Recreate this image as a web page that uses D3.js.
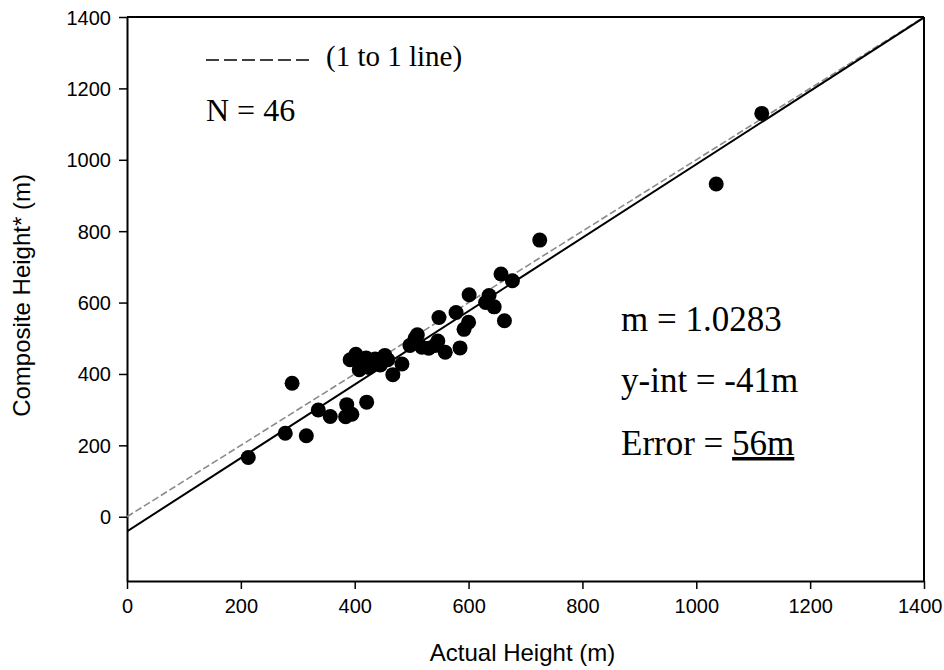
<!DOCTYPE html>
<html>
<head>
<meta charset="utf-8">
<script src="https://cdn.jsdelivr.net/npm/d3@7/dist/d3.min.js"></script>
<style>
  html, body { margin: 0; padding: 0; background: #fff; }
  svg { display: block; }
</style>
</head>
<body>
<svg id="chart" width="944" height="670"></svg>
<script>
// ---- Data ----
const actualHeight = [213, 278, 290, 315, 336, 357, 386, 384, 395, 421,
  402, 408, 404, 415, 436, 453, 445, 467, 483, 497,
  506, 510, 518, 530, 541, 546, 559, 548, 578, 585,
  592, 600, 601, 630, 636, 645, 663, 657, 677, 725,
  1035, 1115, 420, 392, 425, 458];
const compositeHeight = [166, 234, 374, 227, 299, 281, 314, 280, 287, 321,
  455, 412, 440, 430, 442, 452, 425, 398, 428, 480,
  500, 510, 475, 472, 480, 492, 461, 558, 572, 473,
  525, 545, 622, 600, 620, 588, 549, 680, 661, 775,
  932, 1130, 445, 440, 418, 440];
const xTicks = [0, 200, 400, 600, 800, 1000, 1200, 1400];
const yTicks = [0, 200, 400, 600, 800, 1000, 1200, 1400];
const fitSlope = 1.0283;
const fitIntercept = -41;
const lineRange = [0, 1400];
const legendText = "(1 to 1 line)";
const nText = "N = 46";
const statsText = ["m = 1.0283", "y-int = -41m", "Error = "];
const errorValue = "56m";

// ---- Layout ----
const W = 944, H = 670;
const margin = {left: 127, right: 20, top: 17, bottom: 89};
const iw = W - margin.left - margin.right;
const ih = H - margin.top - margin.bottom;

const svg = d3.select("#chart");
const g = svg.append("g").attr("transform", `translate(${margin.left},${margin.top})`);

const x = d3.scaleLinear().domain([0, 1400]).range([0, iw]);
const y = d3.scaleLinear().domain([-180, 1400]).range([ih, 0]);

const sans = "'Liberation Sans', Arial, sans-serif";
const serif = "'Liberation Serif', 'Times New Roman', serif";

// Box (top & right borders)
g.append("line").attr("x1", 0).attr("x2", iw).attr("y1", 0).attr("y2", 0)
  .attr("stroke", "#000").attr("stroke-width", 2);
g.append("line").attr("x1", iw).attr("x2", iw).attr("y1", 0).attr("y2", ih)
  .attr("stroke", "#000").attr("stroke-width", 2);

// Axes
const xAxis = g.append("g").attr("transform", `translate(0,${ih})`)
  .call(d3.axisBottom(x).tickValues(xTicks).tickSize(8).tickSizeOuter(0).tickFormat(d3.format("d")));
const yAxis = g.append("g")
  .call(d3.axisLeft(y).tickValues(yTicks).tickSize(8).tickSizeOuter(0).tickFormat(d3.format("d")));
[xAxis, yAxis].forEach(a => {
  a.select(".domain").attr("stroke", "#000").attr("stroke-width", 2);
  a.selectAll(".tick line").attr("stroke", "#000").attr("stroke-width", 1.5);
  a.selectAll(".tick text").attr("fill", "#000").style("font-family", sans).style("font-size", "20px");
});
xAxis.selectAll(".tick text").attr("dy", "1.05em");
// keep the last x label inside the picture
xAxis.selectAll(".tick text").filter(d => d === 1400)
  .attr("text-anchor", "end").attr("x", 18);
yAxis.selectAll(".tick text").attr("x", -16).attr("dy", "0.35em");

// Axis titles
svg.append("text").attr("x", margin.left + iw / 2 - 3).attr("y", 661)
  .attr("text-anchor", "middle").style("font-family", sans).style("font-size", "24px")
  .text("Actual Height (m)");
svg.append("text").attr("transform", `translate(30,${margin.top + y(620)}) rotate(-90)`)
  .attr("text-anchor", "middle").style("font-family", sans).style("font-size", "24px")
  .text("Composite Height* (m)");

// Clip
svg.append("clipPath").attr("id", "clip").append("rect")
  .attr("x", 0).attr("y", 0).attr("width", iw).attr("height", ih);
const plot = g.append("g").attr("clip-path", "url(#clip)");

// 1 to 1 line (dashed, light)
const line = d3.line().x(d => x(d[0])).y(d => y(d[1]));
plot.append("path")
  .datum(lineRange.map(v => [v, v]))
  .attr("d", line).attr("fill", "none")
  .attr("stroke", "#8a8a8a").attr("stroke-width", 1.6).attr("stroke-dasharray", "7,3");

// Regression line (solid)
plot.append("path")
  .datum(lineRange.map(v => [v, fitSlope * v + fitIntercept]))
  .attr("d", line).attr("fill", "none")
  .attr("stroke", "#000").attr("stroke-width", 2);

// Points
plot.selectAll("circle.pt")
  .data(actualHeight.map((v, i) => [v, compositeHeight[i]]))
  .join("circle").attr("class", "pt")
  .attr("cx", d => x(d[0])).attr("cy", d => y(d[1])).attr("r", 7.5)
  .attr("fill", "#000");

// Legend (dashes + text)
svg.append("line").attr("x1", 206).attr("x2", 312).attr("y1", 60).attr("y2", 60)
  .attr("stroke", "#000").attr("stroke-width", 1.6).attr("stroke-dasharray", "13,5");
svg.append("text").attr("x", 326).attr("y", 66)
  .style("font-family", serif).style("font-size", "29px").text(legendText);

svg.append("text").attr("x", 206).attr("y", 121)
  .style("font-family", serif).style("font-size", "32px").text(nText);

// Stats text
const statsY = [331, 392, 455];
statsText.forEach((t, i) => {
  const tx = svg.append("text").attr("x", 621).attr("y", statsY[i])
    .style("font-family", serif).style("font-size", "35px").text(t);
  if (i === 2) {
    tx.append("tspan").style("text-decoration", "underline").text(errorValue);
  }
});
</script>
</body>
</html>
